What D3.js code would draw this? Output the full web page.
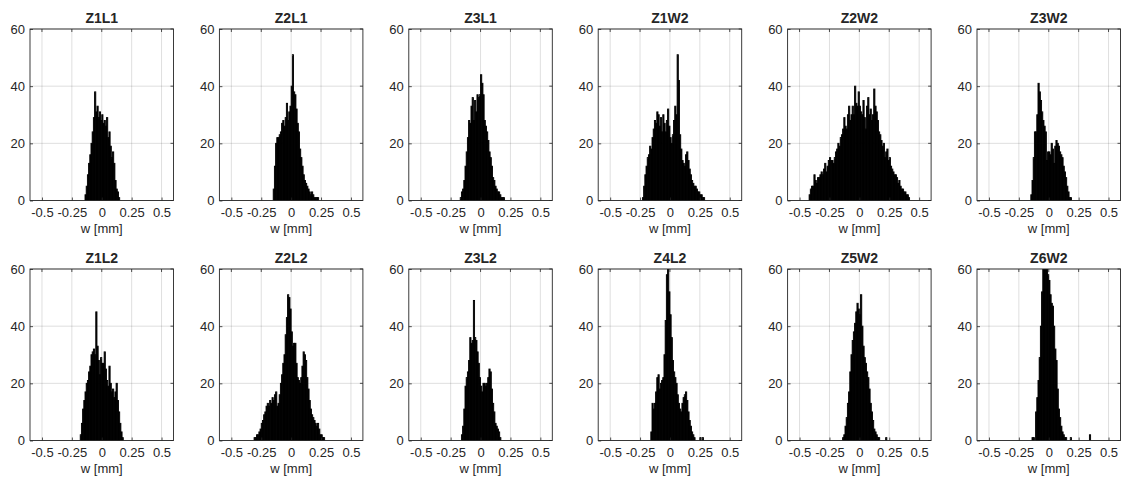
<!DOCTYPE html>
<html>
<head>
<meta charset="utf-8">
<script src="https://cdn.jsdelivr.net/npm/d3@7"></script>
<style>
  html, body { margin: 0; padding: 0; background: #fff; }
  svg { display: block; }
  text { font-family: "Liberation Sans", Arial, Helvetica, sans-serif; fill: #262626; }
</style>
</head>
<body>
<svg id="chart" width="1121" height="483"></svg>
<script>
// ---------------- data ----------------
const binWidth = 0.01;
const titles = ["Z1L1", "Z2L1", "Z3L1", "Z1W2", "Z2W2", "Z3W2",
                "Z1L2", "Z2L2", "Z3L2", "Z4L2", "Z5W2", "Z6W2"];
const binStarts = [-0.14, -0.15, -0.17, -0.23, -0.42, -0.15,
                   -0.18, -0.31, -0.16, -0.16, -0.14, -0.14];
const xTickValues = [-0.5, -0.25, 0, 0.25, 0.5];
const xTickLabels = ["-0.5", "-0.25", "0", "0.25", "0.5"];
const yTickValues = [0, 20, 40, 60];
const xDomain = [-0.6, 0.6];
const yDomain = [0, 60];
const xLabel = "w [mm]";

const z1l1 = [2,5,9,13,16,20,24,29,38,31,33,29,31,28,30,27,28,26,29,22,24,19,15,17,13,7,4,3,1];
const z2l1 = [4,12,20,22,22,23,24,27,28,26,29,34,28,31,33,40,51,38,37,32,27,24,18,15,12,9,7,6,5,4,3,2,3,2,1,1,1,1];
const z3l1 = [1,3,4,7,12,17,22,28,27,33,36,28,35,31,37,36,37,44,41,37,28,26,24,21,17,15,12,8,7,5,4,3,3,2,1,1,1];
const z1w2 = [1,5,9,12,15,16,19,18,22,25,28,27,31,30,26,29,24,30,27,24,28,32,26,22,20,23,28,33,30,51,42,23,18,14,13,12,16,17,14,11,9,7,6,5,5,4,3,3,2,2,1,1];
const z2w2 = [2,4,5,5,9,7,6,8,8,9,10,9,11,13,10,12,14,15,14,14,13,15,17,18,20,19,22,23,25,29,26,25,30,33,28,30,33,30,40,34,33,38,33,31,30,35,29,25,33,36,30,32,28,30,39,33,31,28,24,23,21,19,20,15,17,18,14,15,12,11,10,9,9,8,6,7,5,4,4,3,3,2,2,1];
const z3w2 = [2,7,15,24,24,30,41,38,35,31,28,26,24,14,17,17,16,20,18,13,19,21,20,19,17,16,15,12,10,8,5,3,1,1];
const z1l2 = [2,6,11,14,17,20,21,24,26,30,31,32,30,45,33,28,23,29,27,27,31,25,21,19,26,20,17,18,15,17,20,14,10,6,3,1];
const z2l2 = [1,1,2,2,3,4,6,7,9,10,12,13,12,14,13,15,14,16,17,12,13,16,20,23,27,30,37,43,51,50,46,38,33,34,34,27,22,21,20,22,26,31,30,28,22,18,14,11,9,8,7,6,5,6,4,2,2,1,1];
const z3l2 = [2,5,11,19,22,24,28,36,34,35,49,36,35,31,27,22,19,17,20,20,19,20,22,25,24,18,13,10,6,5,4,3,1];
const z4l2 = [3,13,11,13,17,22,23,18,20,21,22,30,42,58,65,52,44,36,28,24,22,20,16,13,11,10,13,15,16,17,14,10,7,5,3,2,1,0,0,0,0,1,0,1];
const z5w2 = [1,2,5,8,13,17,24,30,35,38,41,45,48,46,44,51,40,33,29,27,24,22,18,13,10,7,4,3,2,1,1,0,0,0,0,0,1];
const z6w2 = [1,1,0,10,15,21,29,40,52,62,68,66,63,58,56,51,48,47,40,32,28,18,11,8,5,3,2,1,1,0,0,0,1,0,0,0,0,0,0,0,0,0,0,0,0,0,0,0,2];

const seriesCounts = [z1l1, z2l1, z3l1, z1w2, z2w2, z3w2,
                      z1l2, z2l2, z3l2, z4l2, z5w2, z6w2];

// ---------------- layout ----------------
const svg = d3.select("#chart");
const cols = 6;
const panelLeft0 = 30, panelStep = 189.4, panelW = 143.5;
const rowTops = [29, 269], panelH = 171.5;
const axisColor = "#262626";
const gridColor = "rgba(38,38,38,0.15)";

titles.forEach((title, idx) => {
  const col = idx % cols, row = Math.floor(idx / cols);
  const left = panelLeft0 + col * panelStep;
  const top = rowTops[row];

  const x = d3.scaleLinear().domain(xDomain).range([0, panelW]);
  const y = d3.scaleLinear().domain(yDomain).range([panelH, 0]);

  const g = svg.append("g").attr("transform", `translate(${left},${top})`);

  // grid
  g.append("g").selectAll("line").data(xTickValues).join("line")
    .attr("x1", d => x(d)).attr("x2", d => x(d))
    .attr("y1", 0).attr("y2", panelH)
    .attr("stroke", gridColor).attr("stroke-width", 1);
  g.append("g").selectAll("line").data(yTickValues).join("line")
    .attr("y1", d => y(d)).attr("y2", d => y(d))
    .attr("x1", 0).attr("x2", panelW)
    .attr("stroke", gridColor).attr("stroke-width", 1);

  // bars
  const counts = seriesCounts[idx];
  const start = binStarts[idx];
  const bins = counts.map((c, i) => ({ x0: start + i * binWidth, x1: start + (i + 1) * binWidth, c }))
                     .filter(b => b.c > 0);
  const clip = `clip${idx}`;
  g.append("clipPath").attr("id", clip).append("rect")
    .attr("x", 0).attr("y", 0).attr("width", panelW).attr("height", panelH);
  g.append("g").attr("clip-path", `url(#${clip})`)
    .selectAll("rect").data(bins).join("rect")
    .attr("x", d => x(d.x0))
    .attr("width", d => x(d.x1) - x(d.x0))
    .attr("y", d => y(Math.min(d.c, yDomain[1] + 2)))
    .attr("height", d => y(0) - y(Math.min(d.c, yDomain[1] + 2)))
    .attr("fill", "#000").attr("stroke", "#000").attr("stroke-width", 0.9);

  // axes (MATLAB-like: ticks inward)
  const xAxis = d3.axisBottom(x).tickValues(xTickValues)
    .tickFormat((d, i) => xTickLabels[i]).tickSizeInner(-3).tickSizeOuter(0).tickPadding(7);
  const gx = g.append("g").attr("transform", `translate(0,${panelH})`).call(xAxis);
  const yAxis = d3.axisLeft(y).tickValues(yTickValues)
    .tickFormat(d3.format("d")).tickSizeInner(-3).tickSizeOuter(0).tickPadding(5);
  const gy = g.append("g").call(yAxis);
  [gx, gy].forEach(a => {
    a.select(".domain").remove();
    a.selectAll(".tick line").attr("stroke", axisColor).attr("stroke-width", 0.8);
    a.selectAll(".tick text").attr("font-size", 13).attr("fill", axisColor)
      .style("font-family", '"Liberation Sans", Arial, sans-serif');
  });
  // mirrored ticks on top/right
  g.append("g").selectAll("line").data(xTickValues).join("line")
    .attr("x1", d => x(d)).attr("x2", d => x(d)).attr("y1", 0).attr("y2", 3)
    .attr("stroke", axisColor).attr("stroke-width", 0.8);
  g.append("g").selectAll("line").data(yTickValues).join("line")
    .attr("y1", d => y(d)).attr("y2", d => y(d)).attr("x1", panelW).attr("x2", panelW - 3)
    .attr("stroke", axisColor).attr("stroke-width", 0.8);

  // box
  g.append("rect").attr("x", 0).attr("y", 0).attr("width", panelW).attr("height", panelH)
    .attr("fill", "none").attr("stroke", axisColor).attr("stroke-width", 0.9);

  // title
  g.append("text").attr("x", panelW / 2).attr("y", -6)
    .attr("text-anchor", "middle").attr("font-size", 14).attr("font-weight", "bold")
    .attr("fill", "#000")
    .text(title);

  // x label
  g.append("text").attr("x", panelW / 2).attr("y", panelH + 32)
    .attr("text-anchor", "middle").attr("font-size", 13)
    .text(xLabel);
});
</script>
</body>
</html>
